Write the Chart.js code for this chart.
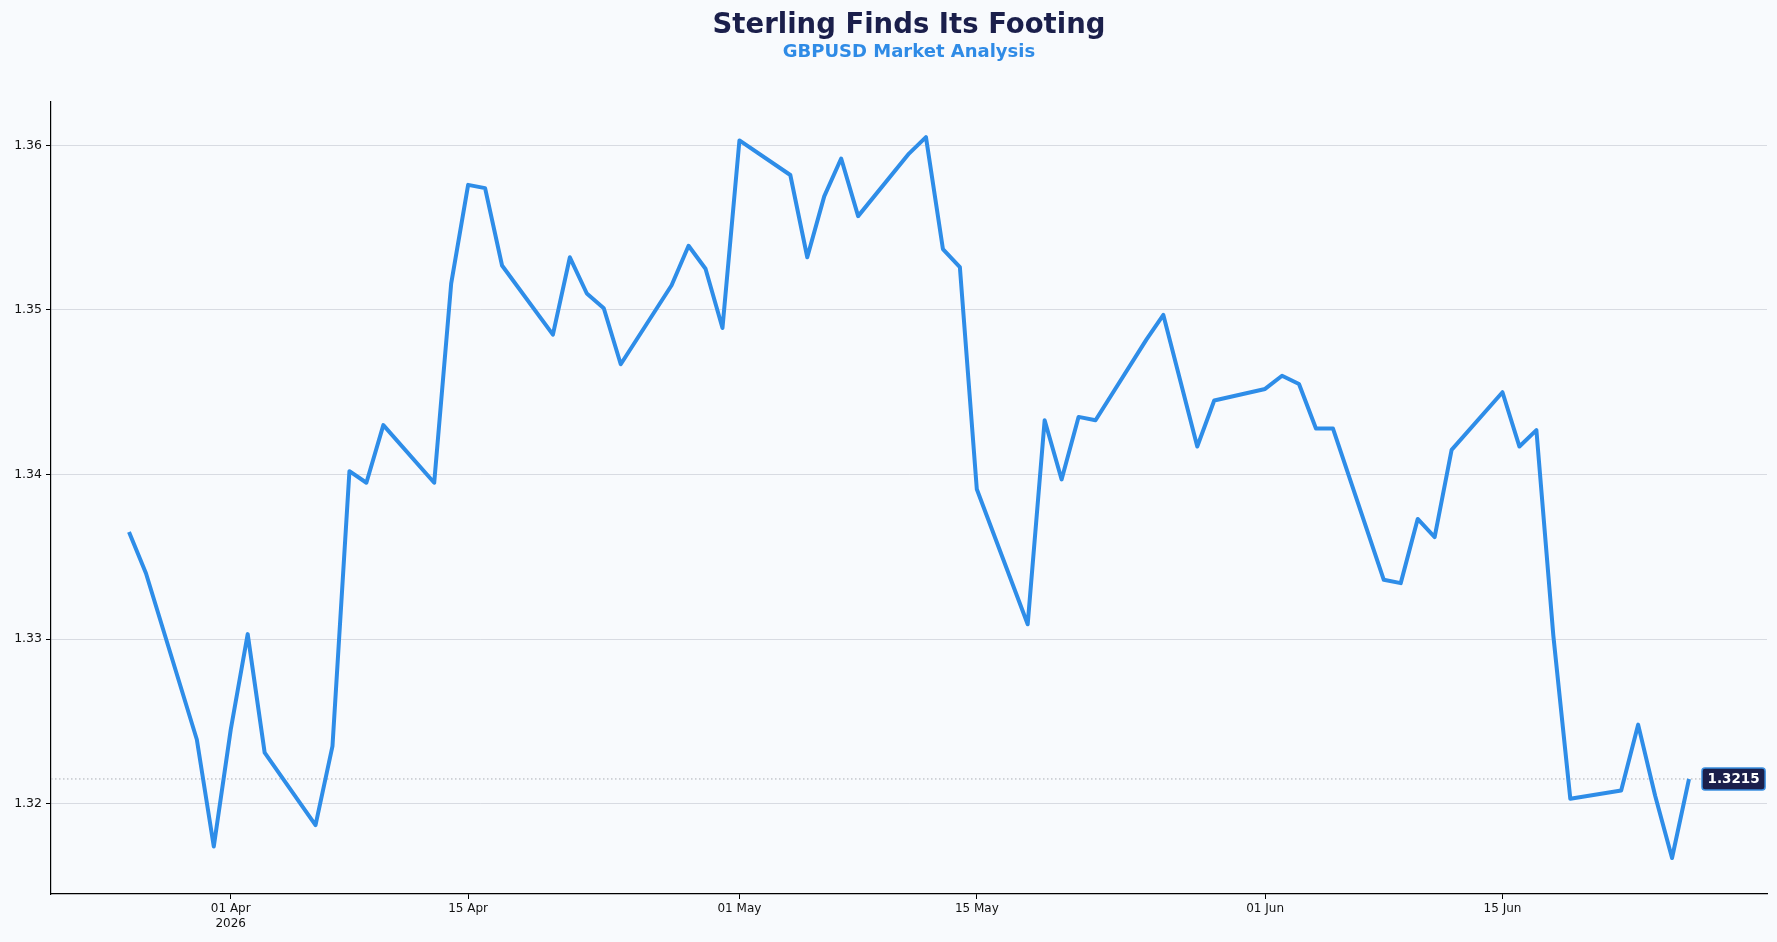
<!DOCTYPE html>
<html lang="en">
<head>
  <meta charset="UTF-8">
  <title>Sterling Finds Its Footing</title>
  <script src="https://cdn.jsdelivr.net/npm/chart.js@4.4.0/dist/chart.umd.min.js"></script>
  <style>
    html, body { margin: 0; padding: 0; background: #f8fafd; }
    #wrap { position: relative; width: 1777px; height: 942px; }
  </style>
</head>
<body>
  <div id="wrap"><canvas id="gbpChart"></canvas></div>
  <script>
    // GBPUSD daily closes (trading days only)
    const dates = [
      '2026-03-26','2026-03-27','2026-03-30','2026-03-31','2026-04-01','2026-04-02','2026-04-03',
      '2026-04-06','2026-04-07','2026-04-08','2026-04-09','2026-04-10',
      '2026-04-13','2026-04-14','2026-04-15','2026-04-16','2026-04-17',
      '2026-04-20','2026-04-21','2026-04-22','2026-04-23','2026-04-24',
      '2026-04-27','2026-04-28','2026-04-29','2026-04-30','2026-05-01',
      '2026-05-04','2026-05-05','2026-05-06','2026-05-07','2026-05-08',
      '2026-05-11','2026-05-12','2026-05-13','2026-05-14','2026-05-15',
      '2026-05-18','2026-05-19','2026-05-20','2026-05-21','2026-05-22',
      '2026-05-25','2026-05-26','2026-05-27','2026-05-28','2026-05-29',
      '2026-06-01','2026-06-02','2026-06-03','2026-06-04','2026-06-05',
      '2026-06-08','2026-06-09','2026-06-10','2026-06-11','2026-06-12',
      '2026-06-15','2026-06-16','2026-06-17','2026-06-18','2026-06-19',
      '2026-06-22','2026-06-23','2026-06-24','2026-06-25','2026-06-26'
    ];
    const closes = [
      1.3365, 1.3340, 1.3239, 1.3174, 1.3245, 1.3303, 1.3231,
      1.3187, 1.3235, 1.3402, 1.3395, 1.3430,
      1.3395, 1.3516, 1.3576, 1.3574, 1.3527,
      1.3485, 1.3532, 1.3510, 1.3501, 1.3467,
      1.3515, 1.3539, 1.3525, 1.3489, 1.3603,
      1.3582, 1.3532, 1.3569, 1.3592, 1.3557,
      1.3595, 1.3605, 1.3537, 1.3526, 1.3391,
      1.3309, 1.3433, 1.3397, 1.3435, 1.3433,
      1.3482, 1.3497, 1.3457, 1.3417, 1.3445,
      1.3452, 1.3460, 1.3455, 1.3428, 1.3428,
      1.3336, 1.3334, 1.3373, 1.3362, 1.3415,
      1.3450, 1.3417, 1.3427, 1.3302, 1.3203,
      1.3208, 1.3248, 1.3205, 1.3167, 1.3215
    ];
    const yTicks = [1.32, 1.33, 1.34, 1.35, 1.36];
    const xTickDates = ['2026-04-01','2026-04-15','2026-05-01','2026-05-15','2026-06-01','2026-06-15'];
    const monthNames = ['Jan','Feb','Mar','Apr','May','Jun','Jul','Aug','Sep','Oct','Nov','Dec'];

    const DAY = 86400000;
    const toDay = s => Date.parse(s + 'T00:00:00Z') / DAY;
    const points = dates.map((d, i) => ({ x: toDay(d), y: closes[i] }));

    // matplotlib-like 5% margins
    const xMin0 = points[0].x, xMax0 = points[points.length - 1].x;
    const yMin0 = Math.min(...closes), yMax0 = Math.max(...closes);
    const xPad = (xMax0 - xMin0) * 0.05, yPad = (yMax0 - yMin0) * 0.05;

    const lastValue = closes[closes.length - 1];

    // dotted reference line + value tag for the last close
    const lastTag = {
      id: 'lastTag',
      beforeDatasetsDraw(chart) {
        const { ctx, chartArea, scales } = chart;
        const y = scales.y.getPixelForValue(lastValue);
        ctx.save();
        ctx.strokeStyle = '#a9adb5';
        ctx.lineWidth = 1;
        ctx.setLineDash([1.5, 2.5]);
        ctx.beginPath();
        ctx.moveTo(chartArea.left, y);
        ctx.lineTo(chartArea.right, y);
        ctx.stroke();
        ctx.restore();
      },
      afterDatasetsDraw(chart) {
        const { ctx, scales } = chart;
        const x = scales.x.getPixelForValue(points[points.length - 1].x);
        const y = scales.y.getPixelForValue(lastValue);
        const text = lastValue.toFixed(4);
        ctx.save();
        ctx.font = 'bold 13.5px "DejaVu Sans"';
        const w = ctx.measureText(text).width + 11;
        const h = 22;
        const bx = x + 13, by = y - h / 2;
        ctx.beginPath();
        ctx.roundRect(bx, by, w, h, 3);
        ctx.fillStyle = '#1b1f4b';
        ctx.fill();
        ctx.lineWidth = 1.5;
        ctx.strokeStyle = '#3a8ee0';
        ctx.stroke();
        ctx.fillStyle = '#ffffff';
        ctx.textAlign = 'center';
        ctx.textBaseline = 'middle';
        ctx.fillText(text, bx + w / 2, y + 0.5);
        ctx.restore();
      }
    };

    new Chart(document.getElementById('gbpChart'), {
      type: 'line',
      data: {
        datasets: [{
          label: 'GBPUSD',
          data: points,
          borderColor: '#2e8de8',
          borderWidth: 4,
          borderJoinStyle: 'round',
          pointRadius: 0,
          tension: 0,
          fill: false
        }]
      },
      plugins: [lastTag],
      options: {
        responsive: true,
        maintainAspectRatio: false,
        animation: false,
        layout: { padding: { left: 0, right: 10, top: 0, bottom: 0 } },
        plugins: {
          legend: { display: false },
          tooltip: { enabled: false },
          title: {
            display: true,
            fullSize: false,
            text: 'Sterling Finds Its Footing',
            color: '#1b1f4b',
            font: { family: 'DejaVu Sans', size: 27.5, weight: 'bold' },
            padding: { top: 9, bottom: 0 }
          },
          subtitle: {
            display: true,
            fullSize: false,
            text: 'GBPUSD Market Analysis',
            color: '#2f8be6',
            font: { family: 'DejaVu Sans', size: 18, weight: 'bold' },
            padding: { top: 0, bottom: 37.5 }
          }
        },
        scales: {
          x: {
            type: 'linear',
            min: xMin0 - xPad,
            max: xMax0 + xPad,
            afterBuildTicks: scale => { scale.ticks = xTickDates.map(d => ({ value: toDay(d) })); },
            afterFit: scale => { scale.height = 48; },
            border: { color: '#000', width: 1.2 },
            grid: { drawOnChartArea: false, drawTicks: true, tickLength: 5, tickColor: '#000', tickWidth: 1 },
            ticks: {
              autoSkip: false,
              maxRotation: 0,
              padding: 3,
              color: '#111',
              font: { family: 'DejaVu Sans', size: 12 },
              callback: (value, index) => {
                const d = new Date(value * DAY);
                const label = String(d.getUTCDate()).padStart(2, '0') + ' ' + monthNames[d.getUTCMonth()];
                return index === 0 ? [label, String(d.getUTCFullYear())] : label;
              }
            }
          },
          y: {
            type: 'linear',
            min: yMin0 - yPad,
            max: yMax0 + yPad,
            afterBuildTicks: scale => { scale.ticks = yTicks.map(v => ({ value: v })); },
            afterFit: scale => { scale.width = 51; },
            border: { color: '#000', width: 1.2 },
            grid: {
              color: '#cfd3da',
              lineWidth: 0.8,
              borderDash: [5, 4],
              drawTicks: true,
              tickLength: 5,
              tickColor: '#000',
              tickWidth: 1,
              tickBorderDash: []
            },
            ticks: {
              padding: 4,
              color: '#111',
              font: { family: 'DejaVu Sans', size: 12.5 },
              callback: value => value.toFixed(2)
            }
          }
        }
      }
    });
  </script>
</body>
</html>
